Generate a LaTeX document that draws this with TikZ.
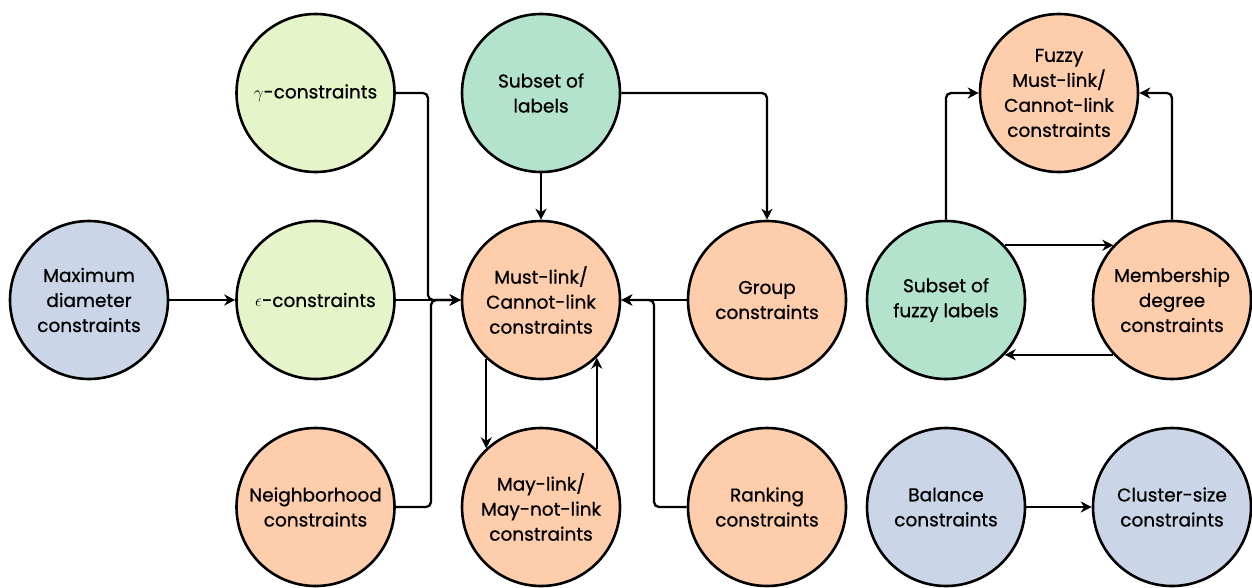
\documentclass[tikz,border=0pt]{standalone}
\usepackage{fontspec}
\setmainfont{Poppins}[FakeBold=0.7]
\usetikzlibrary{arrows.meta}
\definecolor{cblue}{HTML}{CBD5E8}
\definecolor{cgreen}{HTML}{E6F5C9}
\definecolor{cmint}{HTML}{B3E2CD}
\definecolor{cpeach}{HTML}{FDCDAC}
\tikzset{
  cnode/.style={circle, draw=black, line width=2.6pt, minimum size=158pt, inner sep=0pt,
    align=center, font=\fontsize{18.5}{25}\selectfont},
  conn/.style={line width=2.3pt, rounded corners=5pt, -{Stealth[length=11pt,width=11pt,inset=3.5pt]}},
}
\begin{document}
\begin{tikzpicture}[x=1pt,y=-1pt]
\useasboundingbox (0,0) rectangle (1252,587);
\node[cnode, fill=cblue] (maxd) at (89,300) {Maximum\\diameter\\constraints};
\node[cnode, fill=cgreen] (gam) at (315.5,93) {$\gamma$-constraints};
\node[cnode, fill=cgreen] (eps) at (315.5,300) {$\epsilon$-constraints};
\node[cnode, fill=cpeach] (nbh) at (315.5,507) {Neighborhood\\constraints};
\node[cnode, fill=cmint] (sub) at (541,93) {Subset of\\labels};
\node[cnode, fill=cpeach] (ml) at (541,300) {Must-link/\\Cannot-link\\constraints};
\node[cnode, fill=cpeach] (may) at (541,507) {May-link/\\May-not-link\\constraints};
\node[cnode, fill=cpeach] (grp) at (767,300) {Group\\constraints};
\node[cnode, fill=cpeach] (rnk) at (767,507) {Ranking\\constraints};
\node[cnode, fill=cmint] (sfz) at (946,300) {Subset of\\fuzzy labels};
\node[cnode, fill=cpeach] (mem) at (1172,300) {Membership\\degree\\constraints};
\node[cnode, fill=cpeach] (fml) at (1059,93) {Fuzzy\\Must-link/\\Cannot-link\\constraints};
\node[cnode, fill=cblue] (bal) at (946,507) {Balance\\constraints};
\node[cnode, fill=cblue] (csz) at (1172,507) {Cluster-size\\constraints};

\coordinate (jl) at (428,300);
\draw[conn] (maxd) -- (eps);
\draw[conn] (eps) -- (ml);
\draw[conn] (gam.east) -| (jl) -- (ml.west);
\draw[conn] (nbh.east) -- (431,507) -- (431,300) -- (ml.west);
\draw[conn] (sub) -- (ml);
\draw[conn] (sub.east) -| (grp.north);
\draw[conn] (grp) -- (ml);
\draw[conn] (rnk.west) -- (654,507) -- (654,300) -- (ml.east);
\draw[conn] (ml.-133) -- (may.133);
\draw[conn] (may.46) -- (ml.-46);
\draw[conn] (sfz.north) |- (fml.west);
\draw[conn] (mem.north) |- (fml.east);
\draw[conn] (sfz.43) -- (mem.137);
\draw[conn] (mem.-137) -- (sfz.-43);
\draw[conn] (bal) -- (csz);
\end{tikzpicture}
\end{document}
